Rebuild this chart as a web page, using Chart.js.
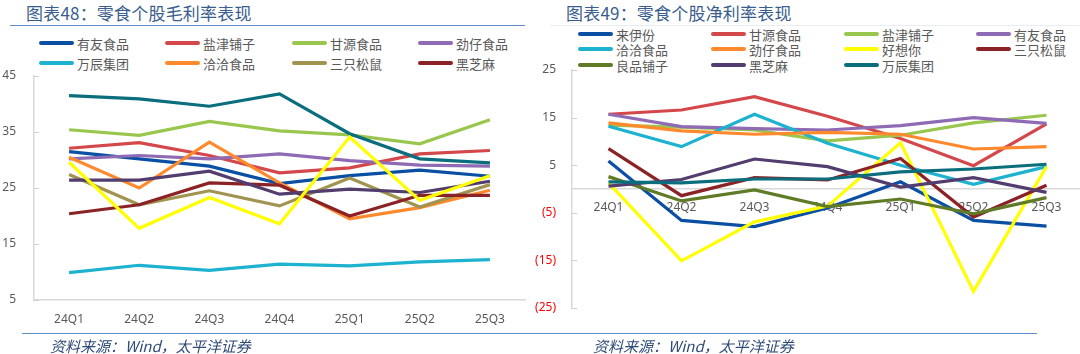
<!DOCTYPE html>
<html>
<head>
<meta charset="utf-8">
<script src="https://cdn.jsdelivr.net/npm/chart.js@4.4.1/dist/chart.umd.min.js"></script>
<style>
  html, body { margin: 0; padding: 0; background: #fff; }
  body { width: 1080px; height: 354px; overflow: hidden; position: relative; font-family: "Noto Sans CJK SC", "Noto Sans", sans-serif; }
  .title { position: absolute; top: 3px; font-size: 17px; line-height: 20px; color: #3a5d8d; white-space: nowrap; letter-spacing: 0.2px; }
  .rule { position: absolute; height: 0; }
  .footer { position: absolute; top: 338px; font-size: 15px; line-height: 16px; font-style: italic; color: #2f4b78; white-space: nowrap; }
  .legend { position: absolute; }
  .legend .item { position: absolute; display: flex; align-items: center; font-size: 13px; color: #595959; white-space: nowrap; height: 16px; }
  .legend .swatch { display: inline-block; width: 35px; height: 4px; border-radius: 2px; margin-right: 3px; }
  canvas { position: absolute; top: 0; }
</style>
</head>
<body>
<div class="title" style="left:26px;">图表48：零食个股毛利率表现</div>
<div class="rule" style="left:10px; width:515px; top:25px; border-top:1.5px solid #5b8fcb;"></div>
<div class="title" style="left:566px;">图表49：零食个股净利率表现</div>
<div class="rule" style="left:550px; width:530px; top:25px; border-top:1px solid #e6edf5;"></div>

<div id="legend-left" class="legend"></div>
<div id="legend-right" class="legend"></div>

<canvas id="grossChart" style="left:0px;"></canvas>
<canvas id="netChart" style="left:500px;"></canvas>

<div class="rule" style="left:22px; width:518px; top:333px; border-top:1.5px solid #5b8fcb;"></div>
<div class="rule" style="left:540px; width:497px; top:333px; border-top:1.5px solid #5b8fcb;"></div>
<div class="footer" style="left:50px;">资料来源：Wind，太平洋证券</div>
<div class="footer" style="left:593px;">资料来源：Wind，太平洋证券</div>

<script>
// Quarters shared by both charts
const quarters = ['24Q1', '24Q2', '24Q3', '24Q4', '25Q1', '25Q2', '25Q3'];

// Gross margin (%) - left chart
const gmYouyou     = [31.5, 30.2, 28.9, 25.8, 27.2, 28.2, 27.1];
const gmYanjin     = [32.1, 33.1, 30.8, 27.7, 28.6, 31.1, 31.7];
const gmGanyuan    = [35.4, 34.4, 36.9, 35.2, 34.5, 32.9, 37.2];
const gmJinzai     = [30.2, 30.8, 30.2, 31.1, 29.9, 29.1, 28.9];
const gmWanchen    = [9.9, 11.2, 10.3, 11.4, 11.1, 11.8, 12.2];
const gmQiaqia     = [30.5, 25.0, 33.2, 25.9, 19.5, 21.5, 24.6];
const gmSanzhi     = [27.4, 22.0, 24.5, 21.8, 26.8, 21.6, 25.6];
const gmHeizhima   = [20.4, 22.0, 25.9, 25.5, 20.0, 23.7, 23.7];
const gmLaiyifen   = [41.5, 40.9, 39.6, 41.8, 34.7, 30.2, 29.5];
const gmHaoxiangni = [29.6, 17.8, 23.3, 18.6, 34.1, 22.8, 27.2];
const gmLiangpin   = [26.4, 26.4, 28.0, 23.9, 24.8, 24.2, 26.2];
const grossTicks   = [5, 15, 25, 35, 45];

// Net margin (%) - right chart
const npLaiyifen   = [5.9, -6.6, -7.9, -4.0, 1.5, -6.6, -7.8];
const npGanyuan    = [15.7, 16.6, 19.4, 15.3, 10.6, 4.9, 13.7];
const npYanjin     = [13.4, 13.0, 12.4, 10.1, 11.3, 13.9, 15.5];
const npYouyou     = [15.7, 13.1, 12.7, 12.4, 13.3, 15.0, 13.8];
const npQiaqia     = [13.2, 8.9, 15.7, 9.6, 5.0, 1.0, 4.7];
const npJinzai     = [13.9, 12.2, 11.5, 11.9, 11.5, 8.4, 8.9];
const npHaoxiangni = [1.3, -15.1, -6.9, -3.6, 9.7, -21.5, 4.7];
const npSanzhi     = [8.5, -1.4, 2.4, 1.9, 6.4, -5.9, 0.8];
const npLiangpin   = [2.6, -2.5, -0.2, -3.7, -2.1, -5.2, -1.8];
const npHeizhima   = [0.6, 2.0, 6.3, 4.7, 0.4, 2.4, -0.7];
const npWanchen    = [1.5, 1.3, 2.1, 2.1, 3.6, 4.2, 5.2];
const netTicks     = [-25, -15, -5, 5, 15, 25];

// Palette
const C = {
    blue: '#0a4fa3', red: '#d4474a', green: '#99c64d', purple: '#8e6bb4',
    cyan: '#1cb2d0', orange: '#ff8a2e', olive: '#a09450', darkred: '#8b2226',
    teal: '#0a6e7c', yellow: '#ffff00', darkpurple: '#523d6e', leaf: '#5f7b26'
};

// Legend layouts (only listed series appear in legend)
const grossLegend = ['有友食品', '盐津铺子', '甘源食品', '劲仔食品', '万辰集团', '洽洽食品', '三只松鼠', '黑芝麻'];
const netLegend = ['来伊份', '甘源食品', '盐津铺子', '有友食品', '洽洽食品', '劲仔食品', '好想你', '三只松鼠', '良品铺子', '黑芝麻', '万辰集团'];

function makeSeries(list) {
    const n = list.length;
    return list.map((s, i) => ({
        label: s[0], data: s[1], borderColor: s[2], backgroundColor: s[2],
        borderWidth: 3.2, pointRadius: 0, tension: 0, fill: false, order: n - i
    }));
}

// Small inward tick marks on the value axis
const innerTicks = {
    id: 'innerTicks',
    beforeDatasetsDraw(chart) {
        const y = chart.scales.y;
        const ctx = chart.ctx;
        ctx.save();
        ctx.strokeStyle = '#d0d0d0';
        ctx.lineWidth = 1;
        y.ticks.forEach((t, i) => {
            const py = Math.round(y.getPixelForTick(i)) + 0.5;
            ctx.beginPath();
            ctx.moveTo(y.right, py);
            ctx.lineTo(y.right + 5, py);
            ctx.stroke();
        });
        ctx.restore();
    }
};

function buildLegend(el, chart, names, cols, rowYs) {
    const sets = chart.data.datasets;
    names.forEach((name, i) => {
        const ds = sets.find(d => d.label === name);
        const item = document.createElement('div');
        item.className = 'item';
        item.style.left = cols[i % cols.length] + 'px';
        item.style.top = (rowYs[Math.floor(i / cols.length)] - 8) + 'px';
        item.innerHTML = `<span class="swatch" style="background:${ds.borderColor}"></span>${name}`;
        el.appendChild(item);
    });
}

const tickFont = { family: '"Noto Sans", sans-serif', size: 12 };

const grossCanvas = document.getElementById('grossChart');
grossCanvas.width = 540; grossCanvas.height = 354;
grossCanvas.style.width = '540px'; grossCanvas.style.height = '354px';

const grossChart = new Chart(grossCanvas.getContext('2d'), {
    type: 'line',
    data: {
        labels: quarters,
        datasets: makeSeries([
            ['有友食品', gmYouyou, C.blue],
            ['盐津铺子', gmYanjin, C.red],
            ['甘源食品', gmGanyuan, C.green],
            ['劲仔食品', gmJinzai, C.purple],
            ['万辰集团', gmWanchen, C.cyan],
            ['洽洽食品', gmQiaqia, C.orange],
            ['三只松鼠', gmSanzhi, C.olive],
            ['黑芝麻', gmHeizhima, C.darkred],
            ['来伊份', gmLaiyifen, C.teal],
            ['良品铺子', gmLiangpin, C.darkpurple],
            ['好想你', gmHaoxiangni, C.yellow]
        ])
    },
    options: {
        responsive: false,
        animation: false,
        devicePixelRatio: 1,
        layout: { padding: { top: 76, right: 15, bottom: 24, left: 0 } },
        plugins: { legend: { display: false }, tooltip: { enabled: false } },
        scales: {
            x: {
                offset: true,
                grid: { display: false, drawTicks: false },
                border: { display: true, color: '#d9d9d9', width: 1.5 },
                ticks: { color: '#595959', font: tickFont, padding: 12, maxRotation: 0 },
                afterFit(scale) { scale.height = 30; }
            },
            y: {
                min: 5, max: 45,
                afterBuildTicks(scale) { scale.ticks = grossTicks.map(v => ({ value: v })); },
                grid: { display: false, drawTicks: false },
                border: { display: true, color: '#d9d9d9', width: 1.5 },
                ticks: { color: '#595959', font: tickFont, padding: 18 },
                afterFit(scale) { scale.width = 34; }
            }
        }
    },
    plugins: [innerTicks]
});

const netCanvas = document.getElementById('netChart');
netCanvas.width = 590; netCanvas.height = 354;
netCanvas.style.width = '590px'; netCanvas.style.height = '354px';

const netChart = new Chart(netCanvas.getContext('2d'), {
    type: 'line',
    data: {
        labels: quarters,
        datasets: makeSeries([
            ['来伊份', npLaiyifen, C.blue],
            ['甘源食品', npGanyuan, C.red],
            ['盐津铺子', npYanjin, C.green],
            ['有友食品', npYouyou, C.purple],
            ['洽洽食品', npQiaqia, C.cyan],
            ['劲仔食品', npJinzai, C.orange],
            ['好想你', npHaoxiangni, C.yellow],
            ['三只松鼠', npSanzhi, C.darkred],
            ['良品铺子', npLiangpin, C.leaf],
            ['黑芝麻', npHeizhima, C.darkpurple],
            ['万辰集团', npWanchen, C.teal]
        ])
    },
    options: {
        responsive: false,
        animation: false,
        devicePixelRatio: 1,
        layout: { padding: { top: 70, right: 7, bottom: 46, left: 0 } },
        plugins: { legend: { display: false }, tooltip: { enabled: false } },
        scales: {
            x: {
                position: { y: 0 },
                offset: true,
                grid: { display: false, drawTicks: false },
                border: { display: true, color: '#d9d9d9', width: 1.5 },
                ticks: { color: '#595959', font: tickFont, padding: 11, maxRotation: 0 }
            },
            y: {
                min: -25, max: 25,
                afterBuildTicks(scale) { scale.ticks = netTicks.map(v => ({ value: v })); },
                grid: { display: false, drawTicks: false },
                border: { display: true, color: '#d9d9d9', width: 1.5 },
                ticks: {
                    font: tickFont,
                    padding: 16,
                    color: ctx => ctx.tick.value < 0 ? '#ff0000' : '#595959',
                    callback: v => v < 0 ? '(' + Math.abs(v) + ')' : String(v)
                },
                afterFit(scale) { scale.width = 72; }
            }
        }
    },
    plugins: [innerTicks]
});

buildLegend(document.getElementById('legend-left'), grossChart, grossLegend, [39, 165, 292, 418], [43, 63]);
buildLegend(document.getElementById('legend-right'), netChart, netLegend, [578, 711, 844, 976], [34, 49, 65]);
</script>
</body>
</html>
